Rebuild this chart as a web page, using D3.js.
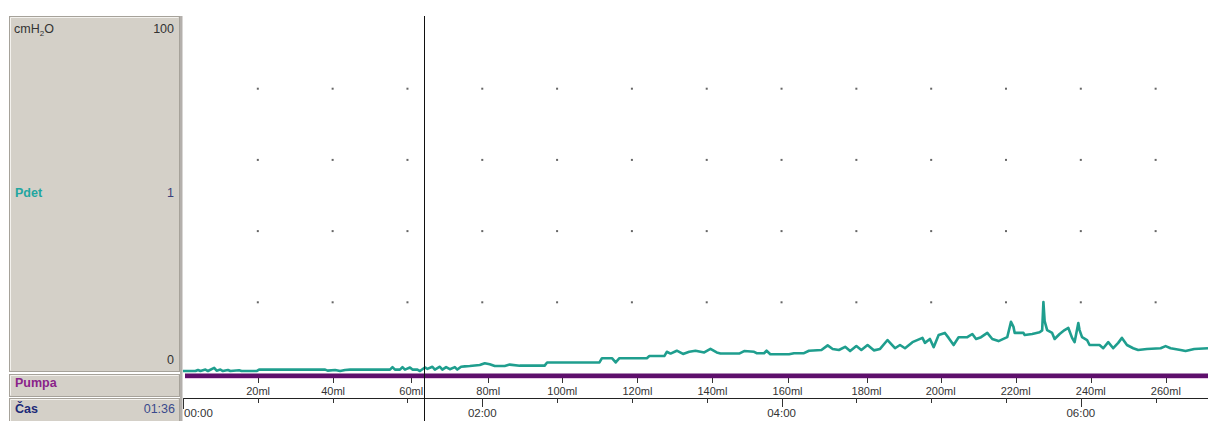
<!DOCTYPE html>
<html>
<head>
<meta charset="utf-8">
<script src="https://cdn.jsdelivr.net/npm/d3@7/dist/d3.min.js"></script>
<style>
  html, body { margin: 0; padding: 0; background: #ffffff; }
  svg { display: block; font-family: "Liberation Sans", Arial, sans-serif; }
</style>
</head>
<body>
<svg id="chart" width="1208" height="421"></svg>
<script>
// Detrusor pressure recording (cmH2O) against elapsed time in seconds
const pdetTimes = [
  0, 5, 6, 7, 9, 10, 12.5, 13.5, 15, 16, 18, 19, 22.5, 23.5, 29.5, 30.5,
  57, 58, 61, 63, 65, 67, 83, 84, 85, 87, 88, 89, 91, 92, 94, 95, 97, 98,
  100, 101, 103, 104, 105.5, 107, 109, 110, 111.5, 113, 115, 119, 121, 123,
  125, 129, 131, 135, 145, 146, 167, 168, 172, 173.5, 175, 186, 187, 193,
  194, 195.5, 198, 200.5, 203, 205.5, 209, 211.5, 214, 215.5, 223, 225, 229,
  230, 233, 234, 235.5, 243, 245, 249, 251, 256, 258.5, 260.5, 263, 265.5,
  267.5, 270, 272, 274.5, 277, 279.5, 282.5, 285.5, 287.5, 289.5, 292.5,
  296.5, 297.5, 299.5, 301, 303, 305.5, 307, 309, 311, 314.5, 316.5, 318,
  320, 322.5, 324.5, 327, 330.5, 332, 333, 333.5, 337, 337.5, 340.5, 343.5,
  344.5, 345, 345.5, 346.5, 348.5, 349.5, 351.5, 353.5, 355, 356.5, 357.5,
  359, 359.5, 360.5, 362.5, 363.5, 367.5, 369, 371, 373, 375, 376.5, 378.5,
  381, 383, 386.5, 392, 394, 396, 400, 402, 405.5, 411
];
const pdetValues = [
  0.7, 0.7, 1.0, 0.7, 1.1, 0.7, 1.6, 0.8, 1.1, 0.7, 1.0, 0.7, 0.9, 0.7, 0.7, 1.1,
  1.1, 0.8, 1.0, 0.7, 1.0, 1.1, 1.1, 1.8, 1.1, 1.1, 1.8, 1.1, 1.7, 1.1, 1.1, 0.7, 1.7, 1.3,
  1.9, 1.1, 1.9, 1.1, 1.8, 1.2, 1.8, 1.1, 1.9, 2.0, 2.1, 2.4, 2.9, 2.6,
  2.1, 2.1, 2.5, 2.2, 2.2, 3.1, 3.1, 4.3, 4.3, 3.1, 4.3, 4.3, 4.9, 4.9,
  6.1, 5.6, 6.4, 5.5, 6.1, 6.4, 5.9, 6.9, 5.9, 5.6, 5.6, 6.3, 6.1,
  5.7, 5.7, 6.4, 5.4, 5.4, 5.7, 5.7, 6.4, 6.6, 7.9, 6.9, 6.6, 7.5,
  6.3, 7.7, 6.6, 8.0, 6.5, 6.9, 9.4, 7.1, 8.0, 7.1, 8.8,
  10.0, 8.6, 9.7, 7.4, 10.8, 11.4, 10.0, 8.0, 10.2, 10.2, 11.1, 9.7,
  10.2, 11.4, 9.7, 9.1, 10.2, 14.5, 13.1, 11.4, 11.4, 10.8, 11.1, 11.6,
  12.1, 20.1, 14.7, 12.2, 11.4, 9.7, 11.1, 12.2, 12.8, 10.0, 8.8,
  14.2, 12.2, 10.2, 9.4, 8.0, 8.0, 7.1, 8.8, 7.1, 8.6, 10.0, 8.0,
  7.1, 6.6, 6.9, 7.1, 7.7, 7.1, 6.6, 6.3, 6.9, 7.1
];

// Infused volume marks (ml) and the time (s) each was reached
const pumpVolumes = [20, 40, 60, 80, 100, 120, 140, 160, 180, 200, 220, 240, 260];
const pumpTimes   = [30.1, 60.2, 91.5, 122.4, 152.1, 182.2, 212.3, 242.4, 274.1, 303.8, 333.9, 364, 394.1];

// Time axis
const timeDomain = [0, 411];
const timeMajorTicks = [0, 120, 240, 360];
const timeMinorTicks = [30, 60, 90, 150, 180, 210, 270, 300, 330, 390];
const gridTimes = [30, 60, 90, 120, 150, 180, 210, 240, 270, 300, 330, 360, 390];
const gridPressures = [20, 40, 60, 80];
const cursorSec = 96.6;

const pRange = [0, 100];

const svg = d3.select("#chart");

const x = d3.scaleLinear().domain(timeDomain).range([183, 1208]);
const y = d3.scaleLinear().domain(pRange).range([373.5, 17.5]);

const fmtTime = s => {
  const m = Math.floor(s / 60), sec = Math.floor(s % 60);
  return String(m).padStart(2, "0") + ":" + String(sec).padStart(2, "0");
};

// ---- left channel panel ----
const panel = svg.append("g");
function box(y0, y1) {
  panel.append("rect").attr("x", 9.5).attr("y", y0 + 0.5).attr("width", 170).attr("height", y1 - y0)
    .attr("fill", "#d4d0c8").attr("stroke", "#a6a29a");
  panel.append("path").attr("d", `M10.5,${y1 - 0.5}V${y0 + 1.5}H178.5`)
    .attr("fill", "none").attr("stroke", "#f4f2ee");
}
box(16, 371);
box(374, 396);
box(398, 422);
svg.append("rect").attr("x", 180).attr("y", 16).attr("width", 2.5).attr("height", 405).attr("fill", "#b4b0ac");

const lbl = (t, xx, yy, opts = {}) => panel.append("text")
  .attr("x", xx).attr("y", yy)
  .attr("text-anchor", opts.anchor || "start")
  .attr("font-size", opts.size || 12)
  .attr("font-weight", opts.bold ? "bold" : "normal")
  .attr("fill", opts.color || "#333")
  .text(t);

const unit = panel.append("text").attr("x", 14).attr("y", 33).attr("font-size", 12.5).attr("fill", "#333");
unit.append("tspan").text("cmH");
unit.append("tspan").attr("font-size", 8).attr("dy", 3).text("2");
unit.append("tspan").attr("dy", -3).text("O");
lbl(String(pRange[1]), 174, 33, { anchor: "end", size: 12.5 });
lbl("Pdet", 15, 197, { bold: true, color: "#22a6a0", size: 12.5 });
lbl("1", 174, 197, { anchor: "end", color: "#3a3f7a", size: 12.5 });
lbl(String(pRange[0]), 174, 364, { anchor: "end", size: 12.5 });
lbl("Pumpa", 15, 387, { bold: true, color: "#8a238a", size: 12.5 });
lbl("Čas", 15, 413, { bold: true, color: "#1d2a78", size: 12.5 });
lbl(fmtTime(cursorSec), 175, 413, { anchor: "end", color: "#3a4a8c", size: 12.5 });

// ---- plot area ----
const plot = svg.append("g");

// dotted grid
gridTimes.forEach(t => gridPressures.forEach(p => {
  plot.append("rect").attr("x", x(t) - 1).attr("y", y(p) - 1)
    .attr("width", 2).attr("height", 2).attr("fill", "#666");
}));

// pump bar
plot.append("rect").attr("x", x(0) + 2).attr("y", 373.5).attr("width", x(timeDomain[1]) - x(0) - 2)
  .attr("height", 4.5).attr("fill", "#5e0f6c");
plot.append("line").attr("x1", x(0) + 2).attr("x2", x(timeDomain[1])).attr("y1", 378.5).attr("y2", 378.5)
  .attr("stroke", "#e6c6e6");

// pressure trace
const pts = pdetTimes.map((t, i) => [t, pdetValues[i]]);
plot.append("path").datum(pts)
  .attr("fill", "none").attr("stroke", "#1f9e8e").attr("stroke-width", 2.6)
  .attr("stroke-linejoin", "round")
  .attr("d", d3.line().x(d => x(d[0])).y(d => y(d[1])));

// volume axis
const vol = plot.append("g");
pumpTimes.forEach((t, i) => {
  vol.append("line").attr("x1", Math.round(x(t)) + 0.5).attr("x2", Math.round(x(t)) + 0.5)
    .attr("y1", 378).attr("y2", 383).attr("stroke", "#333");
  vol.append("text").attr("x", x(t)).attr("y", 395).attr("text-anchor", "middle")
    .attr("font-size", 11).attr("fill", "#333").text(pumpVolumes[i] + "ml");
});

// time axis
const tax = plot.append("g");
tax.append("line").attr("x1", x(0)).attr("x2", x(timeDomain[1])).attr("y1", 398.5).attr("y2", 398.5)
  .attr("stroke", "#222");
timeMinorTicks.forEach(t => {
  tax.append("line").attr("x1", Math.round(x(t)) + 0.5).attr("x2", Math.round(x(t)) + 0.5)
    .attr("y1", 398).attr("y2", 403).attr("stroke", "#333");
});
timeMajorTicks.forEach(t => {
  const xx = Math.round(x(t)) + 0.5;
  tax.append("line").attr("x1", xx).attr("x2", xx)
    .attr("y1", 398).attr("y2", t === 0 ? 409 : 407).attr("stroke", "#333");
  tax.append("text").attr("x", t === 0 ? x(t) + 1 : x(t)).attr("y", 417)
    .attr("text-anchor", t === 0 ? "start" : "middle")
    .attr("font-size", 11.5).attr("fill", "#333").text(fmtTime(t));
});

// cursor
svg.append("line").attr("x1", Math.round(x(cursorSec)) + 0.5).attr("x2", Math.round(x(cursorSec)) + 0.5)
  .attr("y1", 16).attr("y2", 421).attr("stroke", "#111").attr("stroke-width", 1);
</script>
</body>
</html>
